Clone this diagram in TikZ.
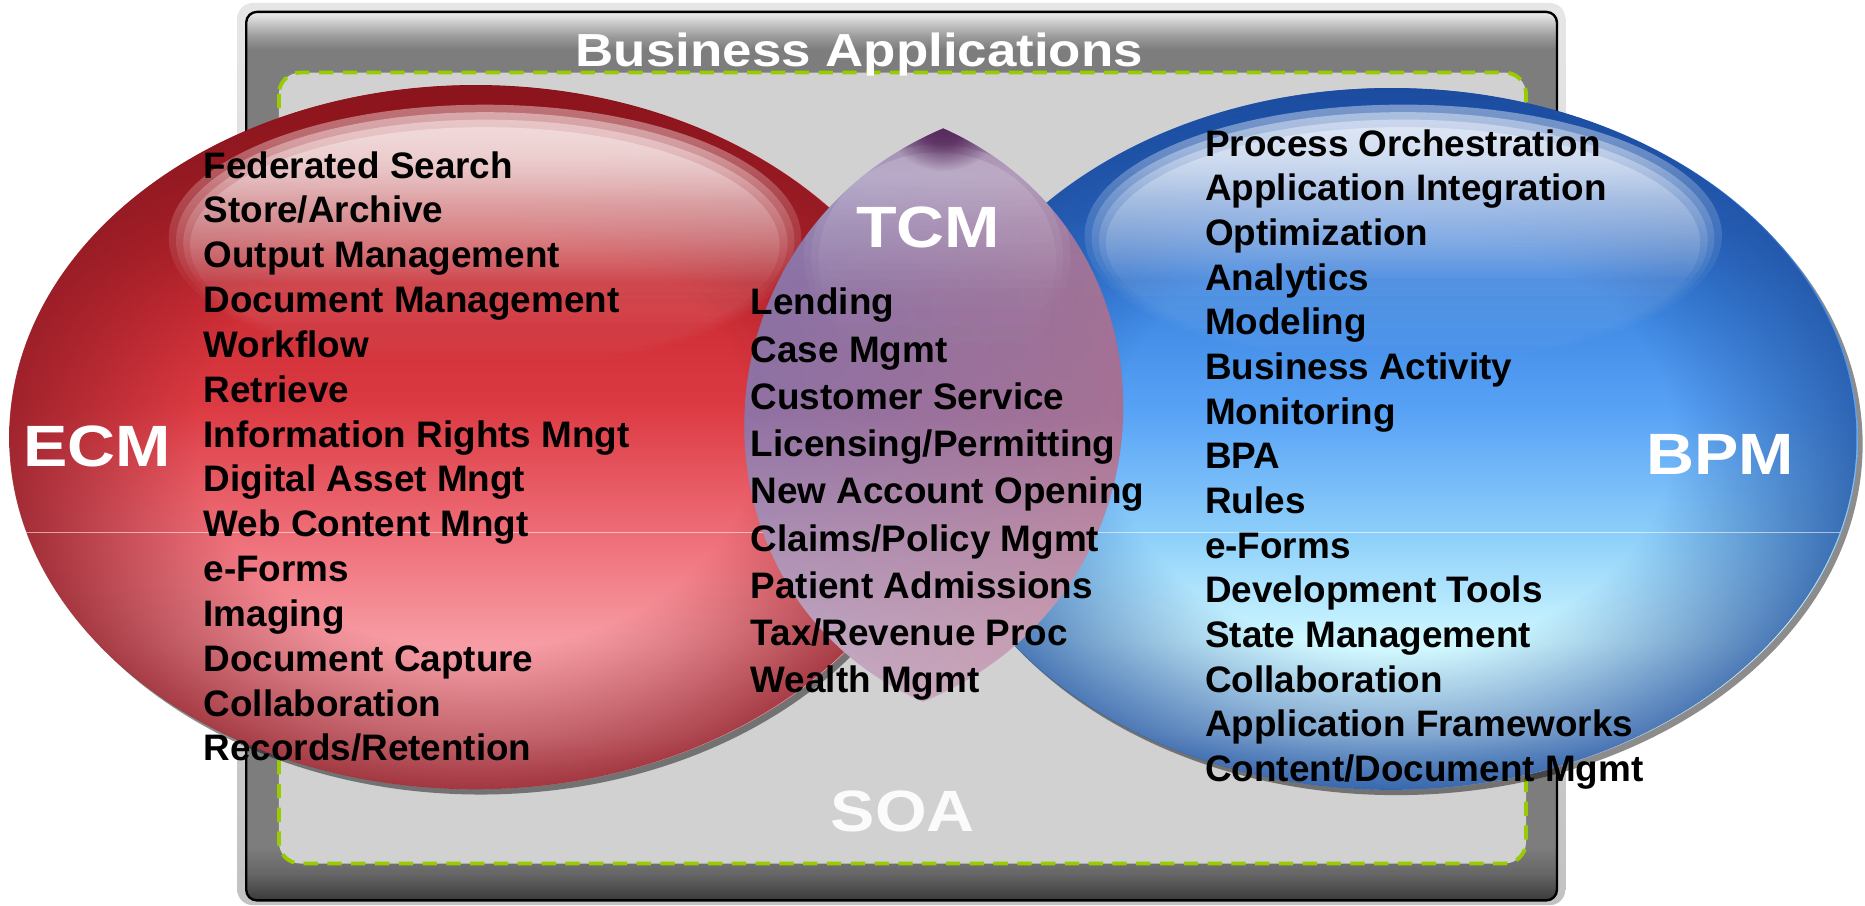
\documentclass[tikz,border=0pt]{standalone}
\usepackage{fontspec}
\setmainfont{Liberation Sans}
\usepackage{graphicx}
\usetikzlibrary{fadings}

% colours
\definecolor{framelt}{HTML}{E6E6E6}
\definecolor{framedk}{HTML}{C2C2C2}
\definecolor{pnlhi}{HTML}{EEEEEE}
\definecolor{pnlhitwo}{HTML}{9A9A9A}
\definecolor{pnlone}{HTML}{7D7D7D}
\definecolor{pnltwo}{HTML}{666666}
\definecolor{pnlthree}{HTML}{3A3A3A}
\definecolor{texgray}{HTML}{D1D1D1}
\definecolor{dashgreen}{HTML}{99CC00}
% red ellipse
\definecolor{rbA}{HTML}{E48C96}
\definecolor{rbB}{HTML}{F6A6AD}
\definecolor{rbC}{HTML}{F79CA4}
\definecolor{rbD}{HTML}{EE6E78}
\definecolor{rbE}{HTML}{DC3A42}
\definecolor{rbF}{HTML}{CC2C34}
\definecolor{rbG}{HTML}{B01C22}
\definecolor{rbH}{HTML}{960C10}
\definecolor{rbI}{HTML}{8A080C}
\definecolor{rededge}{HTML}{8C1A24}
\definecolor{redhl}{HTML}{FFF6F6}
% blue ellipse
\definecolor{bbA}{HTML}{86B4DE}
\definecolor{bbB}{HTML}{D6F2FB}
\definecolor{bbC}{HTML}{D0F8FF}
\definecolor{bbD}{HTML}{8ED0FA}
\definecolor{bbE}{HTML}{58A2F6}
\definecolor{bbF}{HTML}{3C86E2}
\definecolor{bbG}{HTML}{2868CA}
\definecolor{bbH}{HTML}{1852B4}
\definecolor{bbI}{HTML}{1546A6}
\definecolor{blueedge}{HTML}{1F4F9E}
\definecolor{bluehl}{HTML}{F8FBFF}
% lens
\definecolor{lnA}{HTML}{D8BAC8}
\definecolor{lnB}{HTML}{D0B0C4}
\definecolor{lnC}{HTML}{B690B0}
\definecolor{lnD}{HTML}{946A9A}
\definecolor{lnE}{HTML}{8C6A9C}
\definecolor{lnF}{HTML}{8878AC}
\definecolor{lnG}{HTML}{6C4A80}
\definecolor{lensrose}{HTML}{C87C88}
\definecolor{lensblue}{HTML}{7A8CCA}
\definecolor{lenstip}{HTML}{562A5C}

\pgfdeclareverticalshading{panelshade}{100bp}{color(0bp)=(pnlthree); color(25bp)=(pnlthree); color(26.5bp)=(pnltwo); color(28bp)=(pnlone); color(72.9bp)=(pnlone); color(73.6bp)=(pnlhitwo); color(75bp)=(pnlhi); color(100bp)=(pnlhi)}
\pgfdeclareverticalshading{redbase}{100bp}{color(0bp)=(rbA); color(25bp)=(rbA); color(28.7bp)=(rbB); color(35.4bp)=(rbC); color(43bp)=(rbD); color(52.3bp)=(rbE); color(59.9bp)=(rbF); color(67.5bp)=(rbG); color(73bp)=(rbH); color(75bp)=(rbI); color(100bp)=(rbI)}
\pgfdeclareverticalshading{bluebase}{100bp}{color(0bp)=(bbA); color(25bp)=(bbA); color(29bp)=(bbB); color(35.5bp)=(bbC); color(43bp)=(bbD); color(52bp)=(bbE); color(60bp)=(bbF); color(67.5bp)=(bbG); color(73bp)=(bbH); color(75bp)=(bbI); color(100bp)=(bbI)}
\pgfdeclareverticalshading{lensbase}{100bp}{color(0bp)=(lnA); color(25bp)=(lnA); color(30bp)=(lnB); color(40bp)=(lnC); color(50bp)=(lnD); color(60bp)=(lnE); color(71bp)=(lnF); color(75bp)=(lnG); color(100bp)=(lnG)}

\pgfdeclareradialshading{edgefadeshade}{\pgfpointorigin}{color(0bp)=(pgftransparent!100); color(15bp)=(pgftransparent!100); color(25bp)=(pgftransparent!25); color(50bp)=(pgftransparent!25)}
\pgfdeclarefading{edgefade}{\pgfuseshading{edgefadeshade}}
\pgfdeclareradialshading{tipfadeshade}{\pgfpointorigin}{color(0bp)=(pgftransparent!0); color(10bp)=(pgftransparent!15); color(25bp)=(pgftransparent!100); color(50bp)=(pgftransparent!100)}
\pgfdeclarefading{tipfade}{\pgfuseshading{tipfadeshade}}
\pgfdeclareverticalshading{hlshade}{100bp}{color(0bp)=(pgftransparent!100); color(25bp)=(pgftransparent!100); color(42bp)=(pgftransparent!90); color(58bp)=(pgftransparent!50); color(68bp)=(pgftransparent!12); color(75bp)=(pgftransparent!0); color(100bp)=(pgftransparent!0)}
\pgfdeclarefading{hlfade}{\pgfuseshading{hlshade}}
\tikzfading[name=eastfade, left color=transparent!100, right color=transparent!0]
\tikzfading[name=westfade, left color=transparent!0, right color=transparent!100]

\begin{document}
\begin{tikzpicture}[x=1pt,y=-1pt,
  item/.style={anchor=base west, inner sep=0pt, text=black,
    font=\fontsize{31}{37}\selectfont\bfseries},
  biglabel/.style={anchor=base, inner sep=0pt, text=white,
    font=\fontsize{49}{55}\selectfont\bfseries},
  lenspath/.style={insert path={(793,108) .. controls (576,200) and (570,500) .. (776,590)
      .. controls (995,500) and (1000,200) .. (793,108) -- cycle}},
  redell/.style={insert path={(400,367.5) ellipse [x radius=392pt, y radius=296pt]}},
  blueell/.style={insert path={(1170,369) ellipse [x radius=392pt, y radius=295pt]}},
  glow/.style={fill=#1, path fading=hlfade, fill opacity=0.42}]

\useasboundingbox (0,0) rectangle (1568,761.7);

% frame and panel
\shade[rounded corners=13pt, top color=framelt, bottom color=framedk] (199.5,2.5) rectangle (1316,761);
\shade[rounded corners=9pt, shading=panelshade] (207,10) rectangle (1309,757);
\draw[rounded corners=9pt, line width=2pt] (207,10) rectangle (1309,757);
\draw[fill=texgray, rounded corners=18pt, draw=dashgreen, line width=3.2pt,
      dash pattern=on 12pt off 8pt] (234.5,61) rectangle (1283,726);

\node[biglabel, font=\fontsize{39}{45}\selectfont\bfseries] (bizapps) at (722.5,56)
  {\scalebox{1.14}[1]{Business Applications}};
\node[biglabel, text opacity=0.92] (soa) at (759,699) {\scalebox{1.14}[1]{SOA}};

% shadows
\fill[black, opacity=0.45] (404,372) ellipse [x radius=392pt, y radius=296pt];
\fill[black, opacity=0.45] (1174,373.5) ellipse [x radius=392pt, y radius=295pt];

% red ellipse
\shade[shading=redbase, redell];
\fill[rededge, path fading=edgefade, redell];
\foreach \d in {0,6,12,18}
  \fill[glow=redhl] (408,{200+\d*0.35}) ellipse [x radius={266pt-\d pt}, y radius={112pt-0.7*\d pt}];

% blue ellipse
\shade[shading=bluebase, blueell];
\fill[blueedge, path fading=edgefade, blueell];
\foreach \d in {0,6,12,18}
  \fill[glow=bluehl] (1180,{198+\d*0.35}) ellipse [x radius={268pt-\d pt}, y radius={110pt-0.7*\d pt}];

% faint seam line
\draw[white, opacity=0.55, line width=0.8pt] (22,447.5) -- (1547,447.5);

% TCM lens
\shade[lenspath, shading=lensbase];
\fill[lenspath, lensrose, path fading=eastfade, fill opacity=0.45];
\fill[lenspath, lensblue, path fading=westfade, fill opacity=0.25];
\begin{scope}
  \clip[lenspath];
  \foreach \d in {0,6,12}
    \fill[white, path fading=hlfade, fill opacity=0.16] (788,{215+\d*0.3}) ellipse [x radius={112pt-\d pt}, y radius={100pt-0.8*\d pt}];
  \fill[lenstip, path fading=tipfade] (793,106) ellipse [x radius=46pt, y radius=38pt];
\end{scope}

% big labels
\node[biglabel] (ecmlabel) at (81.7,392) {\scalebox{1.14}[1]{ECM}};
\node[biglabel] (tcmlabel) at (780.5,208) {\scalebox{1.14}[1]{TCM}};
\node[biglabel] (bpmlabel) at (1446,399) {\scalebox{1.14}[1]{BPM}};

% lists
\foreach \t [count=\i] in {Federated Search, Store/Archive, Output Management,
  Document Management, Workflow, Retrieve, Information Rights Mngt,
  Digital Asset Mngt, Web Content Mngt, e-Forms, Imaging, Document Capture,
  Collaboration, Records/Retention}
  \node[item] (ecm\i) at (171,{149.7+37.69*(\i-1)}) {\t};

\foreach \t [count=\i] in {Lending, Case Mgmt, Customer Service,
  Licensing/Permitting, New Account Opening, Claims/Policy Mgmt,
  Patient Admissions, Tax/Revenue Proc, Wealth Mgmt}
  \node[item] (tcm\i) at (631,{264.8+39.7*(\i-1)}) {\t};

\foreach \t [count=\i] in {Process Orchestration, Application Integration,
  Optimization, Analytics, Modeling, Business Activity, Monitoring, BPA, Rules,
  e-Forms, Development Tools, State Management, Collaboration,
  Application Frameworks, Content/Document Mgmt}
  \node[item] (bpm\i) at (1013,{131.2+37.57*(\i-1)}) {\t};

\end{tikzpicture}
\end{document}
